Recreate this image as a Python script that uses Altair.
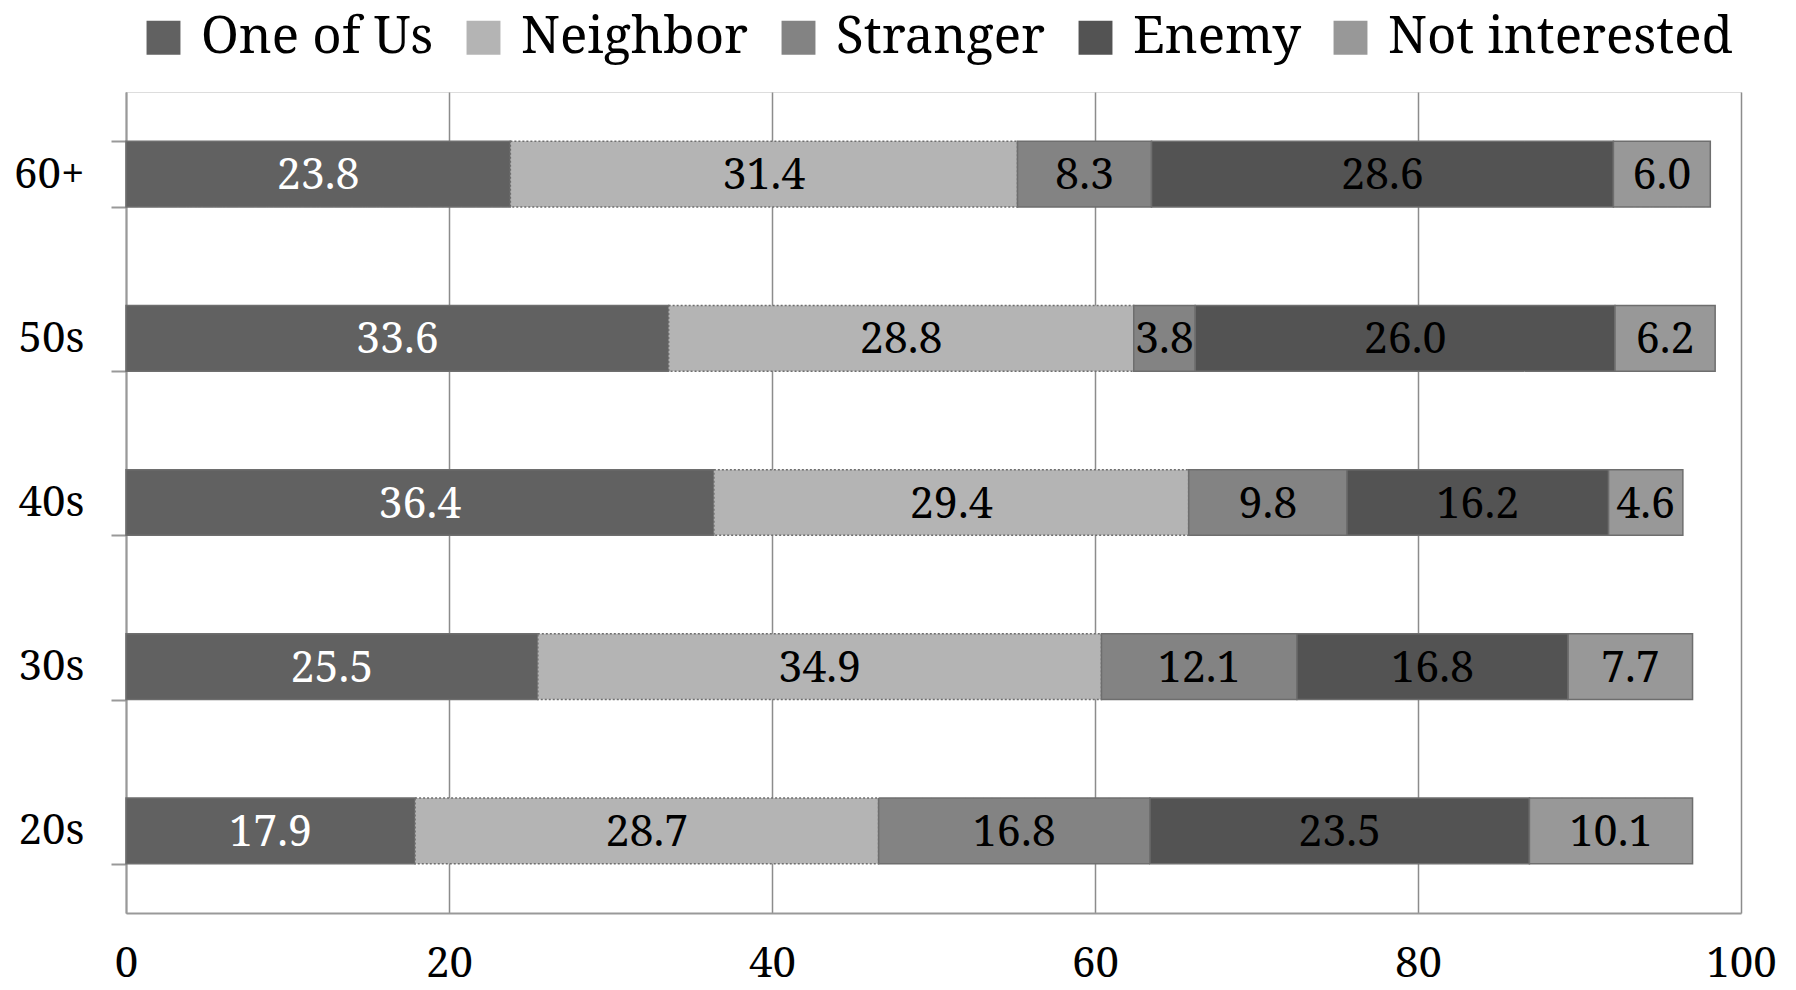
import altair as alt
import pandas as pd

ages = ["60+", "50s", "40s", "30s", "20s"]
cats = ["One of Us", "Neighbor", "Stranger", "Enemy", "Not interested"]
colors = ["#616161", "#b4b4b4", "#838383", "#535353", "#989898"]
label_colors = ["white", "black", "black", "black", "black"]

v_one = [23.8, 33.6, 36.4, 25.5, 17.9]
v_neighbor = [31.4, 28.8, 29.4, 34.9, 28.7]
v_stranger = [8.3, 3.8, 9.8, 12.1, 16.8]
v_enemy = [28.6, 26.0, 16.2, 16.8, 23.5]
v_notint = [6.0, 6.2, 4.6, 7.7, 10.1]
series = [v_one, v_neighbor, v_stranger, v_enemy, v_notint]

x_ticks = [0, 20, 40, 60, 80, 100]

rows = []
for ci, (c, vals) in enumerate(zip(cats, series)):
    for a, v in zip(ages, vals):
        rows.append({"age": a, "cat": c, "order": ci, "value": v,
                     "lc": label_colors[ci], "label": f"{v:.1f}"})
df = pd.DataFrame(rows)

FONT = "Noto Serif"

base = alt.Chart(df).transform_stack(
    stack="value", groupby=["age"], as_=["x0", "x1"],
    sort=[alt.SortField("order", order="ascending")]
).transform_calculate(mid="(datum.x0 + datum.x1) / 2")

y_enc = alt.Y("age:N", sort=ages, title=None,
              scale=alt.Scale(paddingInner=0.6, paddingOuter=0.3),
              axis=alt.Axis(tickBand="extent", tickSize=15, tickColor="#999999",
                            tickWidth=2, domainColor="#999999", domainWidth=2,
                            labelFont=FONT, labelFontSize=42, labelColor="black",
                            labelPadding=27, labelFontWeight="normal"))

leg = dict(orient="none", direction="horizontal", legendX=12, legendY=-80,
           symbolType="square", symbolSize=1150,
           symbolStrokeColor="#777777", symbolStrokeWidth=1.5,
           labelFont=FONT, labelFontSize=51, labelColor="black",
           labelOffset=12, columnPadding=24, labelLimit=600)

bars = base.mark_bar(stroke="#6e6e6e", strokeWidth=1.5).encode(
    x=alt.X("x0:Q", title=None, scale=alt.Scale(domain=[0, 100], nice=False),
            axis=alt.Axis(values=x_ticks, ticks=False, grid=True, gridColor="#8c8c8c",
                          gridWidth=1.5, domainColor="#999999", domainWidth=2,
                          labelFont=FONT, labelFontSize=42, labelColor="black",
                          labelPadding=30, labelFlush=False)),
    x2="x1:Q",
    y=y_enc,
    fill=alt.Fill("cat:N", sort=cats, title=None,
                  scale=alt.Scale(domain=cats, range=colors),
                  legend=alt.Legend(**leg)),
    strokeDash=alt.StrokeDash("cat:N", sort=cats, title=None,
                              scale=alt.Scale(domain=cats,
                                              range=[[1, 0], [2, 2], [1, 0], [1, 0], [1, 0]]),
                              legend=alt.Legend(**leg)),
)

labels = base.mark_text(font=FONT, fontSize=43, baseline="middle", align="center", dy=2).encode(
    x=alt.X("mid:Q"),
    y=alt.Y("age:N", sort=ages),
    text="label:N",
    color=alt.Color("lc:N", scale=None),
)

chart = alt.layer(bars, labels).properties(
    width=1615, height=821,
    autosize=alt.AutoSizeParams(type="none"),
    padding={"left": 118, "top": 84, "right": 45, "bottom": 74},
).configure_view(stroke=None).configure(background="white")

chart.save("out.html", embed_options={"renderer": "svg", "actions": False})
